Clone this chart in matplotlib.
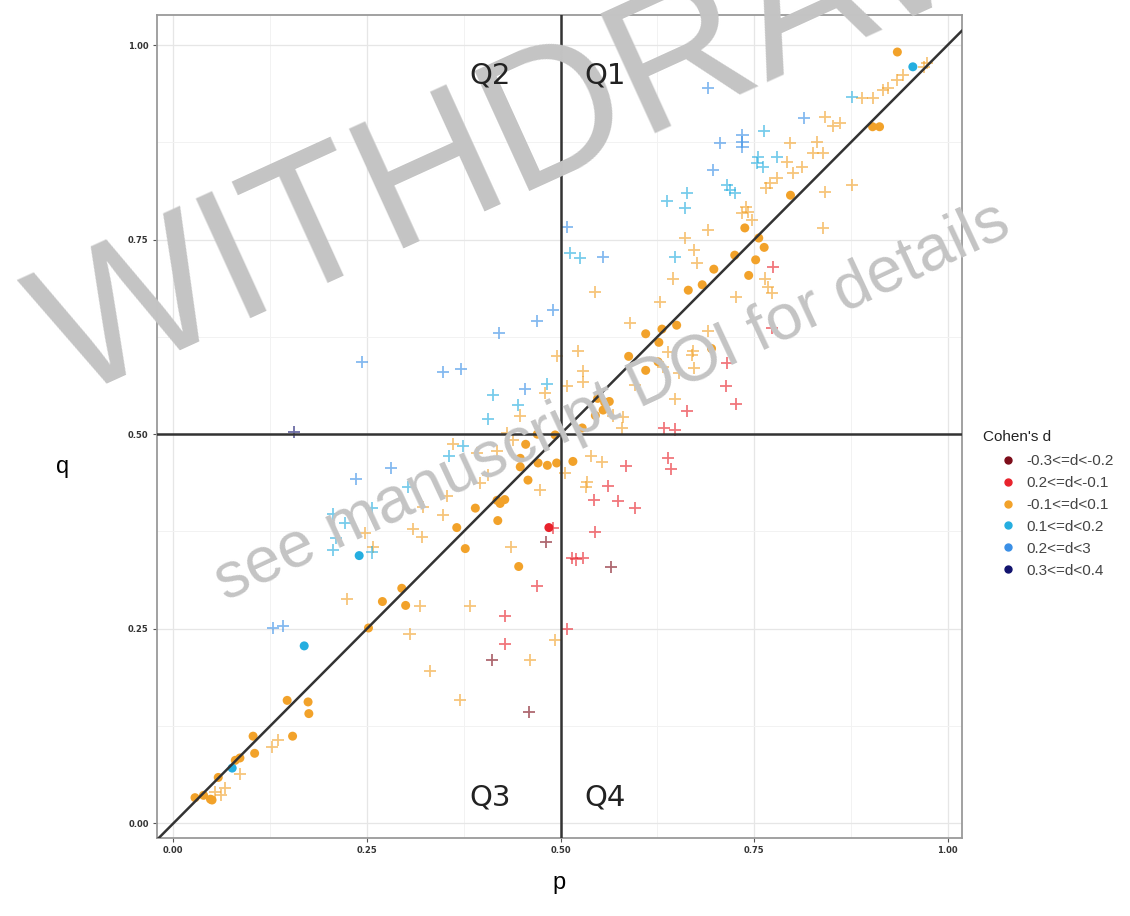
import matplotlib.pyplot as plt
from matplotlib.lines import Line2D

# Cohen's d categories (legend order) and colours
cat_labels = ['-0.3<=d<-0.2', '0.2<=d<-0.1', '-0.1<=d<0.1', '0.1<=d<0.2', '0.2<=d<3', '0.3<=d<0.4']
cat_colors = ['#7d0d1a', '#e8232c', '#f2a22a', '#25aee0', '#3a8fe6', '#12136e']

# filled circles: p, q, category index
circ_p = [0.028, 0.039, 0.048, 0.050, 0.058, 0.080, 0.086, 0.103, 0.105, 0.147, 0.154, 0.174, 0.175,
          0.252, 0.270, 0.300, 0.295, 0.366, 0.377, 0.390, 0.418, 0.428, 0.422, 0.419, 0.446, 0.458,
          0.448, 0.448, 0.471, 0.483, 0.495, 0.455, 0.470, 0.493, 0.528, 0.516, 0.545, 0.548, 0.557,
          0.563, 0.555, 0.588, 0.610, 0.626, 0.610, 0.631, 0.650, 0.627, 0.695, 0.698, 0.665, 0.683,
          0.725, 0.752, 0.743, 0.738, 0.756, 0.763, 0.797, 0.903, 0.912, 0.935,
          0.076, 0.169, 0.240, 0.955,
          0.485]
circ_q = [0.033, 0.036, 0.031, 0.030, 0.059, 0.081, 0.084, 0.112, 0.090, 0.158, 0.112, 0.156, 0.141,
          0.251, 0.285, 0.280, 0.302, 0.380, 0.353, 0.405, 0.415, 0.416, 0.411, 0.389, 0.330, 0.441,
          0.469, 0.458, 0.463, 0.460, 0.463, 0.487, 0.500, 0.499, 0.508, 0.465, 0.524, 0.546, 0.541,
          0.542, 0.531, 0.600, 0.582, 0.593, 0.629, 0.635, 0.640, 0.618, 0.610, 0.712, 0.685, 0.692,
          0.730, 0.724, 0.704, 0.765, 0.752, 0.740, 0.807, 0.895, 0.895, 0.991,
          0.071, 0.228, 0.344, 0.972,
          0.380]
circ_cat = [2] * 62 + [3] * 4 + [1]

# plus markers: p, q, category index
plus_p = [0.054, 0.061, 0.067, 0.086, 0.128, 0.135, 0.224, 0.248, 0.258, 0.305, 0.319, 0.310, 0.321,
          0.323, 0.348, 0.354, 0.332, 0.370, 0.383, 0.361, 0.392, 0.396, 0.406, 0.418, 0.431, 0.439,
          0.448, 0.480, 0.436, 0.461, 0.474, 0.493, 0.506, 0.534, 0.533, 0.539, 0.554, 0.508, 0.523,
          0.529, 0.529, 0.568, 0.581, 0.579, 0.596, 0.590, 0.628, 0.639, 0.632, 0.653, 0.648, 0.671,
          0.670, 0.673, 0.690, 0.545, 0.645, 0.673, 0.676, 0.661, 0.690, 0.726, 0.764, 0.768, 0.773,
          0.740, 0.734, 0.747, 0.742, 0.779, 0.770, 0.766, 0.792, 0.812, 0.800, 0.796, 0.826, 0.839,
          0.831, 0.841, 0.852, 0.861, 0.877, 0.841, 0.839, 0.889, 0.903, 0.916, 0.923, 0.934, 0.942,
          0.970, 0.973, 0.495,
          0.210, 0.206, 0.257, 0.222, 0.206, 0.257, 0.303, 0.356, 0.374, 0.406, 0.445, 0.413, 0.483,
          0.648, 0.637, 0.663, 0.661, 0.715, 0.719, 0.725, 0.755, 0.754, 0.779, 0.761, 0.763, 0.877,
          0.525, 0.512,
          0.129, 0.142, 0.236, 0.281, 0.244, 0.348, 0.372, 0.420, 0.470, 0.490, 0.454, 0.508, 0.555,
          0.690, 0.815, 0.735, 0.735, 0.735, 0.706, 0.697,
          0.156,
          0.428, 0.428, 0.508, 0.470, 0.490, 0.515, 0.520, 0.529, 0.545, 0.543, 0.574, 0.596, 0.561,
          0.585, 0.639, 0.643, 0.634, 0.648, 0.663, 0.715, 0.714, 0.726, 0.773, 0.774,
          0.411, 0.459, 0.481, 0.565]
plus_q = [0.040, 0.036, 0.046, 0.064, 0.098, 0.107, 0.288, 0.373, 0.355, 0.243, 0.279, 0.378, 0.368,
          0.406, 0.396, 0.420, 0.196, 0.158, 0.279, 0.488, 0.476, 0.437, 0.447, 0.479, 0.501, 0.492,
          0.524, 0.553, 0.355, 0.210, 0.428, 0.235, 0.450, 0.438, 0.432, 0.472, 0.464, 0.562, 0.607,
          0.581, 0.567, 0.524, 0.522, 0.508, 0.563, 0.643, 0.670, 0.605, 0.586, 0.578, 0.545, 0.607,
          0.602, 0.585, 0.632, 0.683, 0.700, 0.737, 0.720, 0.752, 0.762, 0.676, 0.700, 0.689, 0.681,
          0.792, 0.784, 0.775, 0.785, 0.829, 0.823, 0.816, 0.850, 0.843, 0.835, 0.874, 0.861, 0.861,
          0.875, 0.907, 0.896, 0.900, 0.820, 0.811, 0.765, 0.932, 0.932, 0.942, 0.945, 0.955, 0.961,
          0.972, 0.977, 0.600,
          0.366, 0.351, 0.348, 0.386, 0.397, 0.405, 0.432, 0.472, 0.485, 0.519, 0.537, 0.550, 0.564,
          0.728, 0.800, 0.810, 0.790, 0.820, 0.814, 0.810, 0.856, 0.848, 0.856, 0.843, 0.889, 0.933,
          0.726, 0.733,
          0.251, 0.254, 0.442, 0.456, 0.593, 0.580, 0.584, 0.630, 0.645, 0.660, 0.558, 0.766, 0.728,
          0.945, 0.906, 0.884, 0.875, 0.869, 0.874, 0.839,
          0.503,
          0.266, 0.230, 0.250, 0.305, 0.380, 0.341, 0.339, 0.341, 0.374, 0.415, 0.414, 0.405, 0.433,
          0.459, 0.470, 0.455, 0.508, 0.506, 0.530, 0.591, 0.562, 0.539, 0.636, 0.715,
          0.210, 0.143, 0.361, 0.329]
plus_cat = [2] * 94 + [3] * 28 + [4] * 20 + [5] + [1] * 24 + [0] * 4

quad_labels = ['Q1', 'Q2', 'Q3', 'Q4']
quad_pos = [(0.557, 0.961), (0.409, 0.961), (0.409, 0.033), (0.557, 0.033)]

fig = plt.figure(figsize=(11.3, 9.16), dpi=100)
ax = fig.add_axes([0.139, 0.085, 0.712, 0.899])

ax.scatter(plus_p, plus_q, marker='+', s=75, linewidths=1.3,
           c=[cat_colors[i] for i in plus_cat], alpha=0.62, zorder=3)
ax.scatter(circ_p, circ_q, marker='o', s=42, linewidths=0,
           c=[cat_colors[i] for i in circ_cat], zorder=4)

ax.axline((0, 0), (1, 1), color='#333333', lw=1.8, zorder=5)
ax.axhline(0.5, color='#333333', lw=1.8, zorder=5)
ax.axvline(0.5, color='#333333', lw=1.8, zorder=5)

# watermark (drawn inside the axes so the quadrant labels stay on top)
ax.text(70 / 1130, 1 - 400 / 916, 'WITHDRAWN', transform=fig.transFigure, fontsize=138,
        color='#c4c4c4', rotation=24.5, ha='left', va='baseline', rotation_mode='anchor',
        family='Liberation Sans', zorder=8, clip_on=False)
ax.text(612 / 1130, 1 - 402 / 916, 'see manuscript DOI for details', transform=fig.transFigure,
        fontsize=46.5, color='#c4c4c4', rotation=25, ha='center', va='center',
        rotation_mode='anchor', family='Liberation Sans', zorder=8, clip_on=False)

for lab, (x, y) in zip(quad_labels, quad_pos):
    ax.text(x, y, lab, fontsize=21, color='#222222', ha='center', va='center', zorder=9)

ax.set_xlim(-0.021, 1.018)
ax.set_ylim(-0.019, 1.039)
ticks = [0, 0.25, 0.5, 0.75, 1.0]
ax.set_xticks(ticks)
ax.set_yticks(ticks)
ax.set_xticklabels(['0.00', '0.25', '0.50', '0.75', '1.00'])
ax.set_yticklabels(['0.00', '0.25', '0.50', '0.75', '1.00'])
ax.set_xticks([0.125, 0.375, 0.625, 0.875], minor=True)
ax.set_yticks([0.125, 0.375, 0.625, 0.875], minor=True)
ax.tick_params(axis='both', which='major', length=3, width=0.8, color='#555555',
               labelsize=6, labelcolor='#333333', pad=3)
ax.tick_params(axis='both', which='minor', length=0)
for lbl in ax.get_xticklabels() + ax.get_yticklabels():
    lbl.set_fontweight('bold')
ax.grid(True, which='major', color='#e6e6e6', lw=0.9, zorder=0)
ax.grid(True, which='minor', color='#f2f2f2', lw=0.7, zorder=0)
ax.set_axisbelow(True)
for sp in ax.spines.values():
    sp.set_color('#9a9a9a')
    sp.set_linewidth(1.3)

ax.set_xlabel('p', fontsize=17, labelpad=12, family='Liberation Sans')
ax.set_ylabel('q', fontsize=17, rotation=0, va='center', ha='center', family='Liberation Sans')
ax.yaxis.set_label_coords(-0.118, 0.451)

handles = [Line2D([], [], marker='o', ls='', color=c, markersize=5) for c in cat_colors]
leg = fig.legend(handles, cat_labels, loc='upper left', bbox_to_anchor=(0.8714, 0.5192),
                 frameon=False, prop={'family': 'Liberation Sans', 'size': 11},
                 labelspacing=0.515, handletextpad=0.64, handlelength=1.2)
for t in leg.get_texts():
    t.set_color('#444444')
fig.text(983 / 1130, 1 - 437 / 916, "Cohen's d", fontsize=11, ha='left', va='center',
         family='Liberation Sans', color='#222222')

fig.savefig('out.png', dpi=100)
